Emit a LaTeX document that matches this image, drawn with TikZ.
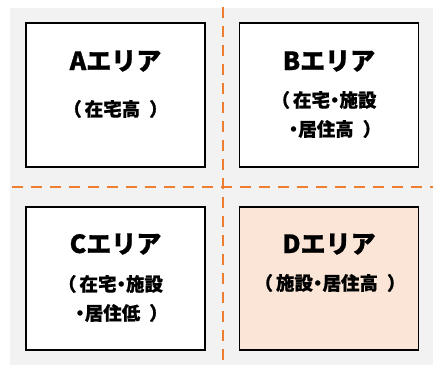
\documentclass[tikz,border=0pt]{standalone}
\usepackage{fontspec}
\newfontfamily\jp{Noto Sans CJK JP}[FakeBold=0.8]
\definecolor{bggray}{HTML}{F2F2F2}
\definecolor{dashorange}{HTML}{ED7D31}
\definecolor{dfill}{HTML}{FBE5D6}
\newcommand\lp{（\hspace{3pt}}
\newcommand\rp{\hspace{9pt}）}
\newcommand\dt{\hspace{-4.5pt}・\hspace{-4.5pt}}
\begin{document}
\begin{tikzpicture}[x=1pt,y=-1pt,
  area/.style={draw=black,line width=1.4pt,fill=white,minimum width=179pt,minimum height=144pt,inner sep=0pt},
  divider/.style={draw=dashorange,line width=2.8pt,dash pattern=on 11pt off 8pt},
  title/.style={font=\jp\bfseries\fontsize{25}{25}\selectfont,anchor=base,inner sep=0pt},
  sub/.style={font=\jp\bfseries\fontsize{18.5}{18.5}\selectfont,anchor=base,inner sep=0pt}]
\useasboundingbox (0,0) rectangle (433,365);
\fill[bggray] (10,8) rectangle (433,365);
\coordinate (vtop) at (223,7);
\coordinate (vbot) at (223,365);
\coordinate (hleft) at (12,187);
\coordinate (hright) at (433,187);
\draw[divider] (vtop) -- (vbot);
\draw[divider] (hleft) -- (hright);
\node[area] (A) at (115.5,95) {};
\node[area] (B) at (329,95) {};
\node[area,minimum height=143pt] (C) at (115.5,278.5) {};
\node[area,minimum height=143pt,fill=dfill] (D) at (329,278.5) {};
\node[title] (At) at (115.5,70) {Aエリア};
\node[sub] (As) at (115.5,116) {\lp 在宅高\rp};
\node[title] (Bt) at (329,70) {Bエリア};
\node[sub] (Bs1) at (324,107) {\lp 在宅\dt 施設};
\node[sub] (Bs2) at (335,136) {\dt 居住高\rp};
\node[title] (Ct) at (115.5,253) {Cエリア};
\node[sub] (Cs1) at (110.5,291) {\lp 在宅\dt 施設};
\node[sub] (Cs2) at (121.5,320) {\dt 居住低\rp};
\node[title] (Dt) at (329,253) {Dエリア};
\node[sub] (Ds) at (330,290) {\lp 施設\dt 居住高\rp};
\end{tikzpicture}
\end{document}
